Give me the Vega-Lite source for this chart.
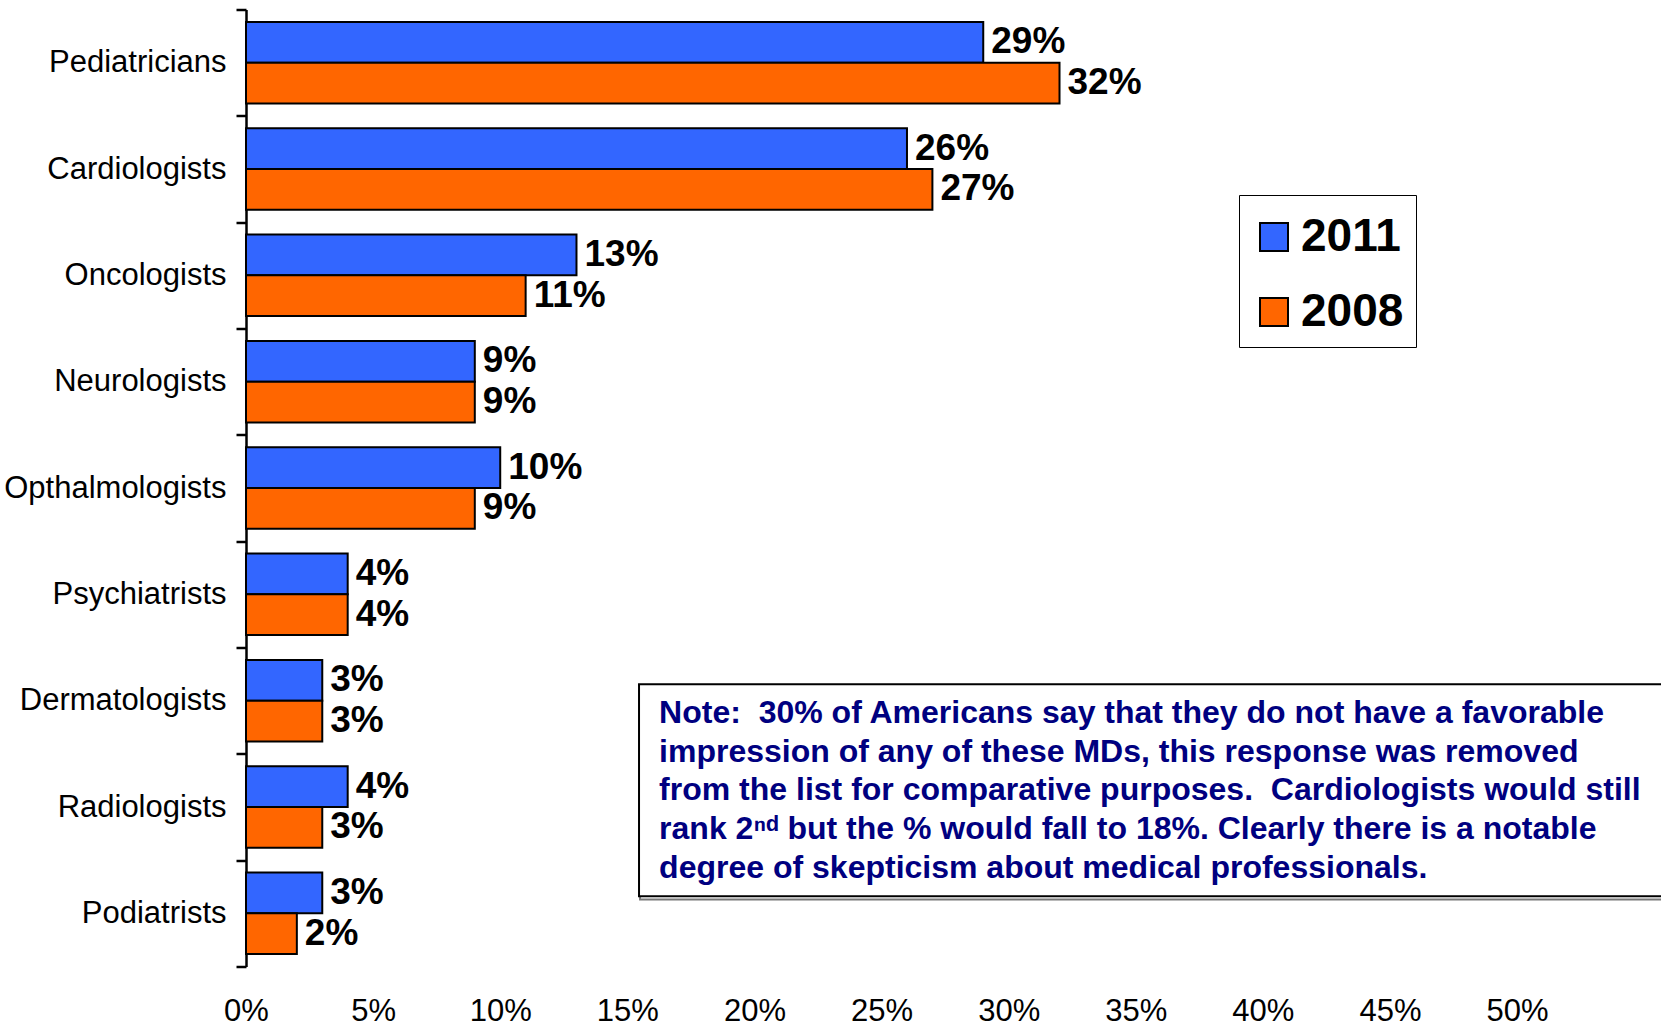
{
  "$schema": "https://vega.github.io/schema/vega-lite/v6.json",
  "width": 1415,
  "height": 957,
  "autosize": {"type": "none"},
  "padding": {"left": 246, "top": 9.5, "right": 0, "bottom": 61.5},
  "background": "white",
  "config": {"view": {"stroke": null}, "font": "Liberation Sans"},
  "datasets": {
    "bars": [
      {"category": "Pediatricians", "year": "2011", "value": 29},
      {"category": "Pediatricians", "year": "2008", "value": 32},
      {"category": "Cardiologists", "year": "2011", "value": 26},
      {"category": "Cardiologists", "year": "2008", "value": 27},
      {"category": "Oncologists", "year": "2011", "value": 13},
      {"category": "Oncologists", "year": "2008", "value": 11},
      {"category": "Neurologists", "year": "2011", "value": 9},
      {"category": "Neurologists", "year": "2008", "value": 9},
      {"category": "Opthalmologists", "year": "2011", "value": 10},
      {"category": "Opthalmologists", "year": "2008", "value": 9},
      {"category": "Psychiatrists", "year": "2011", "value": 4},
      {"category": "Psychiatrists", "year": "2008", "value": 4},
      {"category": "Dermatologists", "year": "2011", "value": 3},
      {"category": "Dermatologists", "year": "2008", "value": 3},
      {"category": "Radiologists", "year": "2011", "value": 4},
      {"category": "Radiologists", "year": "2008", "value": 3},
      {"category": "Podiatrists", "year": "2011", "value": 3},
      {"category": "Podiatrists", "year": "2008", "value": 2}
    ],
    "note": [
      {"lines": ["Note:\u00a0 30% of Americans say that they do not have a favorable", "impression of any of these MDs, this response was removed", "from the list for comparative purposes.\u00a0 Cardiologists would still", "rank 2ⁿᵈ but the % would fall to 18%. Clearly there is a notable", "degree of skepticism about medical professionals."]}
    ]
  },
  "resolve": {"scale": {"y": "independent"}},
  "layer": [
    {
      "data": {"name": "bars"},
      "transform": [{"calculate": "datum.value + '%'", "as": "label"}],
      "encoding": {
        "y": {
          "field": "category", "type": "nominal", "sort": null,
          "scale": {"paddingInner": 0, "paddingOuter": 0},
          "axis": {
            "title": null, "labelFont": "Liberation Sans", "labelFontSize": 31,
            "labelColor": "black", "labelPadding": 10, "labelLimit": 400, "tickBand": "extent",
            "tickSize": 10, "tickWidth": 2.5, "tickColor": "black",
            "domainColor": "black", "domainWidth": 2.5, "grid": false
          }
        },
        "yOffset": {
          "field": "year", "type": "nominal", "sort": ["2011", "2008"],
          "scale": {"paddingOuter": 0.306, "paddingInner": 0}
        },
        "x": {
          "field": "value", "type": "quantitative",
          "scale": {"domain": [0, 55.66], "nice": false},
          "axis": {
            "title": null, "values": [0, 5, 10, 15, 20, 25, 30, 35, 40, 45, 50],
            "labelExpr": "datum.value + '%'", "labelFont": "Liberation Sans",
            "labelFontSize": 31, "labelColor": "black", "labelPadding": 30,
            "labelFlush": false, "labelOverlap": false,
            "domain": false, "ticks": false, "grid": false
          }
        }
      },
      "layer": [
        {
          "mark": {"type": "bar", "stroke": "black", "strokeWidth": 2},
          "encoding": {
            "color": {
              "field": "year", "type": "nominal",
              "scale": {"domain": ["2011", "2008"], "range": ["#3366FF", "#FF6600"]},
              "legend": {
                "orient": "none", "legendX": 993, "legendY": 185.5, "title": " ",
                "titleFontSize": 7, "titlePadding": 0,
                "symbolType": "square", "symbolSize": 784, "symbolStrokeColor": "black",
                "symbolStrokeWidth": 2, "labelFont": "Liberation Sans", "labelFontSize": 46,
                "labelFontWeight": "bold", "labelColor": "black", "labelOffset": 4,
                "labelExpr": "datum.label + '\u00a0'",
                "rowPadding": 29, "padding": 12, "strokeColor": "black"
              }
            }
          }
        },
        {
          "mark": {"type": "text", "align": "left", "baseline": "middle", "dx": 8, "fontSize": 37, "fontWeight": "bold", "font": "Liberation Sans", "color": "black"},
          "encoding": {"text": {"field": "label"}}
        }
      ]
    },
    {
      "data": {"name": "note"},
      "layer": [
        {
          "mark": {"type": "rect", "fill": "white", "stroke": "#777777", "strokeWidth": 2},
          "encoding": {
            "x": {"datum": 15.5, "type": "quantitative"},
            "x2": {"datum": 57},
            "y": {"datum": 6.375, "type": "quantitative", "scale": {"domain": [0, 9], "reverse": true, "nice": false}, "axis": null},
            "y2": {"datum": 8.37}
          }
        },
        {
          "mark": {"type": "rect", "fill": "white", "stroke": "black", "strokeWidth": 2},
          "encoding": {
            "x": {"datum": 15.46, "type": "quantitative"},
            "x2": {"datum": 57},
            "y": {"datum": 6.345, "type": "quantitative"},
            "y2": {"datum": 8.34}
          }
        },
        {
          "mark": {"type": "text", "align": "left", "baseline": "middle", "fontSize": 32, "fontWeight": "bold", "font": "Liberation Sans", "color": "#000080", "lineHeight": 38.6},
          "encoding": {
            "x": {"datum": 16.25, "type": "quantitative"},
            "y": {"datum": 6.618, "type": "quantitative"},
            "text": {"field": "lines"}
          }
        }
      ]
    }
  ]
}
